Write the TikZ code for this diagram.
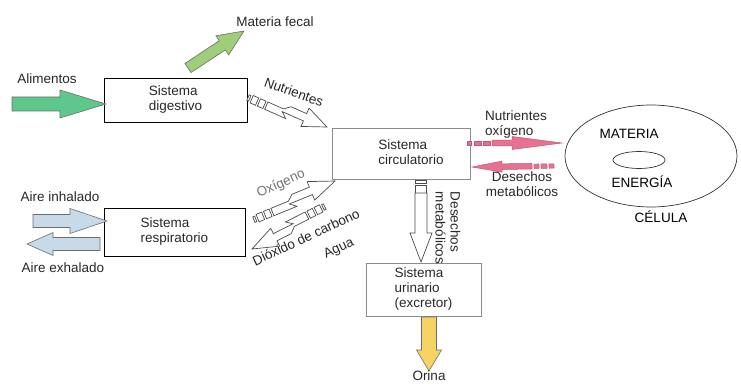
\documentclass[tikz,border=0pt]{standalone}
\usepackage{fontspec}
\setmainfont{Liberation Sans}
\usetikzlibrary{calc,shapes.geometric}
\definecolor{gfood}{RGB}{94,200,140}
\definecolor{gfecal}{RGB}{160,205,120}
\definecolor{pinkarr}{RGB}{232,112,145}
\definecolor{bluearr}{RGB}{200,218,232}
\definecolor{yelarr}{RGB}{245,212,100}
\definecolor{txt}{RGB}{40,40,40}
\definecolor{edge}{RGB}{110,110,110}

\tikzset{
  pics/blockarr/.style n args={4}{code={%
    \path[pic actions] (0,#2) -- ({#1-#4},#2) -- ({#1-#4},#3) -- (#1,0) -- ({#1-#4},-#3) -- ({#1-#4},-#2) -- (0,-#2) -- cycle;}},
  pics/striparr/.style n args={6}{code={%
    \foreach \ma/\mb in {#6} {\path[pic actions] (\ma,{-#2+0.6}) rectangle (\mb,{#2-0.6});}
    \path[pic actions] (#5,#2) -- ({#1-#4},#2) -- ({#1-#4},#3) -- (#1,0) -- ({#1-#4},-#3) -- ({#1-#4},-#2) -- (#5,-#2) -- cycle;}},
  pics/jagarr/.style n args={5}{code={%
    \pgfmathsetmacro\jm{0.5*(#1-#4)+10}
    \path[pic actions] (0,{#5-#2+1}) rectangle (2,{#5+#2-1});
    \path[pic actions] (4,{#5-#2}) rectangle (10,{#5+#2});
    \path[pic actions] (12,{#5-#2}) rectangle (18,{#5+#2});
    \path[pic actions] (20,{#5+#2}) -- ({\jm+3},{#5+#2}) -- ({\jm-3},#2) -- ({#1-#4},#2) -- ({#1-#4},#3) -- (#1,0) -- ({#1-#4},-#3) -- ({#1-#4},-#2) -- ({\jm+3},-#2) -- ({\jm-3},{#5-#2}) -- (20,{#5-#2}) -- cycle;}},
  solidarr/.style={draw=edge, line width=0.6pt, line join=miter},
  openarr/.style={draw=black!70, fill=white, line width=0.7pt},
  pinkstyle/.style={draw=pinkarr!80!black, line width=0.5pt, fill=pinkarr},
  box/.style={draw=black, line width=0.7pt, align=left, text=txt},
  gbox/.style={draw=black!45, line width=0.7pt, align=left, text=txt},
  lbl/.style={text=txt, align=left, inner sep=1pt},
  glbl/.style={text=black!55, align=left, inner sep=1pt},
}

\newcommand\arrowpic[5]{%
  \pgfpointdiff{\pgfpointanchor{#1}{center}}{\pgfpointanchor{#2}{center}}%
  \pgfgetlastxy{\arrdx}{\arrdy}%
  \pgfmathsetmacro\arrlen{veclen(\arrdx,\arrdy)}%
  \pgfmathsetmacro\arrang{atan2(\arrdy,\arrdx)}%
  \path (#1) pic[rotate=\arrang,#3] {#4={\arrlen}#5};%
}

\begin{document}
\begin{tikzpicture}[x=1pt,y=-1pt,every node/.style={font=\fontsize{13.5}{15}\selectfont}]
\useasboundingbox[fill=white] (0,0) rectangle (741,385);

% boxes
\node[box, minimum width=143pt, minimum height=44pt] (dig) at (175.5,100) {Sistema\\digestivo};
\node[gbox, minimum width=138pt, minimum height=51pt] (circ) at (401,153.5) {};
\node[lbl] (circt) at (411,152) {Sistema\\circulatorio};
\node[box, minimum width=141pt, minimum height=48pt] (resp) at (174.5,232) {Sistema\\respiratorio};
\node[gbox, minimum width=115pt, minimum height=53pt] (uri) at (423.5,289.5) {Sistema\\urinario\\(excretor)};

% cell
\node[draw=black!80, line width=0.7pt, ellipse, minimum width=172pt, minimum height=102pt] (cell) at (651,156) {};
\node[draw=black!80, line width=0.7pt, ellipse, minimum width=52pt, minimum height=17pt] (nuc) at (639,160) {};
\node[lbl, text=black] (mat) at (629,134) {MATERIA};
\node[lbl, text=black] (ene) at (642,182) {ENERGÍA};
\node[lbl, text=black] (cel) at (661,217) {CÉLULA};

% arrow end points
\coordinate (alA) at (12,104);  \coordinate (alB) at (106,104);
\coordinate (mfA) at (188,68);  \coordinate (mfB) at (244,31);
\coordinate (nuA) at (250,93);  \coordinate (nuB) at (327,127);
\coordinate (oxA) at (252,215); \coordinate (oxB) at (335,181);
\coordinate (dcA) at (327,211); \coordinate (dcB) at (252,249);
\coordinate (dmA) at (421,180); \coordinate (dmB) at (421,262);
\coordinate (prA) at (467,143); \coordinate (prB) at (562,143);
\coordinate (plA) at (554,166); \coordinate (plB) at (472,167);
\coordinate (biA) at (33,221);  \coordinate (biB) at (107,221);
\coordinate (beA) at (100,244); \coordinate (beB) at (27,244);
\coordinate (orA) at (429,317); \coordinate (orB) at (429,371);

% arrows
\arrowpic{alA}{alB}{solidarr, fill=gfood}{blockarr}{{7}{14}{46}}
\arrowpic{mfA}{mfB}{solidarr, fill=gfecal}{blockarr}{{5.5}{11.5}{26}}
\arrowpic{biA}{biB}{solidarr, fill=bluearr}{blockarr}{{6.5}{12.5}{37}}
\arrowpic{beA}{beB}{solidarr, fill=bluearr}{blockarr}{{6.5}{11.5}{26}}
\arrowpic{orA}{orB}{solidarr, fill=yelarr}{blockarr}{{7.5}{12.5}{21}}
\arrowpic{nuA}{nuB}{openarr}{jagarr}{{4}{10}{24}{5}}
\arrowpic{oxA}{oxB}{openarr}{jagarr}{{4}{10}{26}{5}}
\arrowpic{dcA}{dcB}{openarr}{jagarr}{{4}{10}{26}{5}}
\arrowpic{dmA}{dmB}{openarr}{striparr}{{6}{11}{29}{13}{0/3,5/13}}
\arrowpic{prA}{prB}{pinkstyle}{striparr}{{2.8}{6.5}{50}{25}{0/4,7/14,16/23}}
\arrowpic{plA}{plB}{pinkstyle}{striparr}{{2.8}{5.5}{30}{22}{0/5,7/13,15/20}}

% labels
\node[lbl] (lal) at (47,79) {Alimentos};
\node[lbl] (lmf) at (275,22) {Materia fecal};
\node[lbl, rotate=-20] (lnu) at (294,92) {Nutrientes};
\node[glbl, rotate=24] (lox) at (281,184) {Oxígeno};
\node[lbl, rotate=25] (ldc) at (306,237) {Dióxido de carbono};
\node[lbl, rotate=25] (lag) at (339,249) {Agua};
\node[lbl, rotate=-90] (ldm) at (448,228) {Desechos\\metabólicos};
\node[lbl] (lno) at (516,125) {Nutrientes\\oxígeno};
\node[lbl, align=center] (lde) at (522,184) {Desechos\\metabólicos};
\node[lbl] (lai) at (60,197) {Aire inhalado};
\node[lbl] (lae) at (63,268) {Aire exhalado};
\node[lbl] (lor) at (429,376) {Orina};
\end{tikzpicture}
\end{document}
